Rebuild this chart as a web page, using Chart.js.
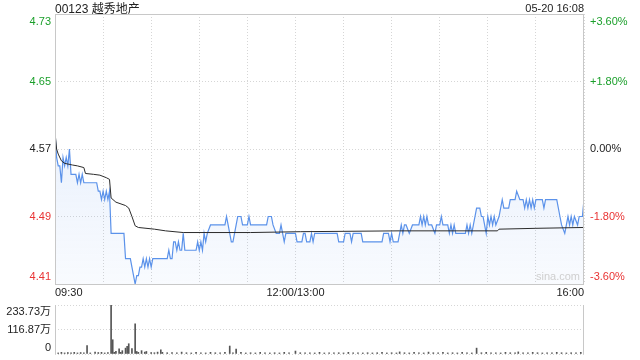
<!DOCTYPE html>
<html lang="zh">
<head>
<meta charset="UTF-8" />
<title>00123 越秀地产</title>
<script src="https://cdn.jsdelivr.net/npm/chart.js@4.4.1/dist/chart.umd.min.js"></script>
<style>
  body { margin: 0; background: #fff; }
  canvas { position: absolute; left: 0; }
  #main { top: 0; }
  #vol { top: 300px; }
</style>
</head>
<body>
<canvas id="main" width="640" height="300"></canvas>
<canvas id="vol" width="640" height="60"></canvas>
<script>
// minutes since 09:30 (lunch break removed, 330 = 16:00)
const prevClose = 4.57;
const priceTicks = [4.41, 4.49, 4.57, 4.65, 4.73];
const pctTicks = ["-3.60%", "-1.80%", "0.00%", "+1.80%", "+3.60%"];
const gridMin = [0, 30, 60, 90, 120, 150, 180, 210, 240, 270, 300, 330];
const timeLabels = ["09:30", "12:00/13:00", "16:00"];
const timeLabelMin = [0, 150, 330];

const priceMin = [0,1,2,3,4,5,6,7,8,9,10,13,14,15,16,17,18,26,27,28,29,30,31,32,33,34,35,43,44,47,48,49,50,51,52,53,54,55,56,57,58,59,60,61,70,71,72,73,74,75,76,77,78,79,80,81,88,89,90,91,92,93,94,95,97,106,107,108,109,110,111,112,113,114,116,117,120,121,122,132,133,135,136,138,140,141,142,143,144,150,151,154,155,156,157,159,160,161,162,176,177,180,181,184,185,186,191,192,204,205,208,209,210,211,214,216,217,218,219,221,223,227,228,229,230,231,232,233,235,237,238,240,241,242,245,246,247,248,249,250,256,257,258,259,260,261,263,265,266,267,269,270,271,272,273,274,275,277,279,280,283,284,287,288,290,292,293,294,295,296,297,298,299,300,304,305,306,313,315,316,318,319,320,321,322,323,324,326,327,329,330];
const priceVal = [4.59,4.56,4.55,4.55,4.53,4.56,4.55,4.56,4.55,4.57,4.54,4.54,4.53,4.54,4.53,4.54,4.53,4.53,4.52,4.52,4.51,4.52,4.51,4.52,4.51,4.52,4.47,4.47,4.44,4.44,4.43,4.42,4.41,4.42,4.42,4.43,4.43,4.44,4.43,4.44,4.43,4.44,4.43,4.44,4.44,4.45,4.44,4.44,4.46,4.46,4.45,4.46,4.45,4.45,4.47,4.45,4.45,4.46,4.45,4.46,4.45,4.47,4.46,4.47,4.48,4.48,4.49,4.48,4.47,4.46,4.46,4.47,4.48,4.49,4.49,4.48,4.48,4.49,4.48,4.48,4.49,4.49,4.48,4.47,4.47,4.48,4.47,4.46,4.47,4.47,4.46,4.46,4.47,4.47,4.46,4.46,4.47,4.46,4.47,4.47,4.46,4.46,4.47,4.47,4.46,4.47,4.47,4.46,4.46,4.47,4.47,4.46,4.47,4.46,4.46,4.48,4.47,4.48,4.48,4.47,4.48,4.48,4.49,4.48,4.49,4.48,4.49,4.48,4.48,4.47,4.48,4.48,4.49,4.48,4.48,4.47,4.48,4.47,4.48,4.47,4.47,4.48,4.47,4.48,4.47,4.48,4.50,4.50,4.49,4.49,4.47,4.49,4.48,4.49,4.48,4.49,4.48,4.49,4.51,4.50,4.50,4.51,4.51,4.52,4.51,4.51,4.50,4.51,4.50,4.51,4.50,4.51,4.50,4.51,4.51,4.50,4.51,4.51,4.49,4.48,4.47,4.48,4.49,4.48,4.49,4.48,4.49,4.48,4.49,4.49,4.51];

const avgMin = [0,1,2,4,6,11,14,18,19,24,28,32,34,35,38,44,46,48,50,52,62,69,80,122,153,215,276,277,300,330];
const avgVal = [4.59,4.57,4.564,4.556,4.553,4.551,4.550,4.548,4.541,4.540,4.539,4.536,4.534,4.512,4.507,4.503,4.500,4.490,4.479,4.477,4.475,4.473,4.471,4.471,4.472,4.473,4.473,4.475,4.476,4.477];

// volume in 万股
const volTicks = [0, 116.87, 233.73];
const volTickLabels = ["0", "116.87万", "233.73万"];
const volMin = [0,2,4,6,8,10,12,14,16,18,20,22,25,27,29,31,33,35,36,37,38,40,41,42,44,45,46,48,50,51,52,54,56,57,60,62,64,66,67,70,73,76,79,82,85,88,91,94,97,100,103,106,109,111,113,116,119,122,125,128,131,134,137,140,143,146,150,153,156,159,162,165,168,171,174,177,180,183,186,189,192,195,198,201,204,207,210,213,215,218,221,224,227,230,233,236,239,242,245,248,251,254,257,260,263,266,269,272,275,278,281,284,287,289,292,295,298,301,304,307,310,313,316,319,322,325,328,330];
const volVal = [7,5,8,5,7,5,8,5,7,5,40,5,9,7,8,5,7,233.73,68,8,13,25,8,16,28,36,49,26,144,12,8,16,9,12,7,6,9,20,8,6,7,5,9,6,5,8,6,5,8,6,5,8,38,6,24,8,5,6,5,8,6,5,6,5,8,5,14,6,5,6,5,8,5,6,5,6,5,8,5,6,5,6,5,6,8,5,6,5,10,6,5,8,6,5,9,6,5,8,5,6,5,8,6,5,28,6,8,5,6,5,8,6,5,10,6,5,8,6,5,6,5,8,6,5,6,5,8,90];

const FONT = 'Arial, "Liberation Sans", "Noto Sans CJK SC", sans-serif';
const GREEN = "#1a9f2a";
const RED = "#e93434";
const DARK = "#222";
const GRID = "#d6d6d6";

function colorFor(v) {
  if (Math.abs(v - prevClose) < 1e-6) return DARK;
  return v > prevClose ? GREEN : RED;
}

const mainText = {
  id: "mainText",
  afterDraw(chart) {
    const ctx = chart.ctx;
    const a = chart.chartArea;
    const y = chart.scales.y, x = chart.scales.x;
    ctx.save();
    // frame
    ctx.strokeStyle = "#c8c8c8";
    ctx.lineWidth = 1;
    ctx.strokeRect(a.left + 0.5, a.top + 0.5, a.right - a.left - 1, a.bottom - a.top);
    ctx.font = "11px " + FONT;
    ctx.textBaseline = "middle";
    priceTicks.forEach((v, i) => {
      let py = y.getPixelForValue(v);
      if (i === priceTicks.length - 1) py += 8;
      if (i === 0) py -= 7;
      ctx.fillStyle = colorFor(v);
      ctx.textAlign = "right";
      ctx.fillText(v.toFixed(2), a.left - 4, py);
      ctx.textAlign = "left";
      ctx.fillText(pctTicks[i], a.right + 6, py);
    });
    ctx.fillStyle = DARK;
    timeLabels.forEach((t, i) => {
      const px = x.getPixelForValue(timeLabelMin[i]);
      ctx.textAlign = i === 0 ? "left" : (i === timeLabels.length - 1 ? "right" : "center");
      ctx.fillText(t, px, a.bottom + 9);
    });
    ctx.font = "12px " + FONT;
    ctx.textAlign = "left";
    ctx.fillText("00123 越秀地产", a.left, 10);
    ctx.font = "11px " + FONT;
    ctx.textAlign = "right";
    ctx.fillText("05-20 16:08", a.right, 9);
    ctx.fillStyle = "#cfcfcf";
    ctx.fillText("sina.com", a.right - 4, a.bottom - 7);
    ctx.restore();
  }
};

const dotted = { display: false, dash: [1, 2] };

new Chart(document.getElementById("main"), {
  type: "line",
  data: {
    datasets: [
      {
        label: "均价",
        data: avgMin.map((m, i) => ({ x: m, y: avgVal[i] })),
        borderColor: "#2b2b2b",
        borderWidth: 1,
        pointRadius: 0,
        fill: false
      },
      {
        label: "价格",
        data: priceMin.map((m, i) => ({ x: m, y: priceVal[i] })),
        borderColor: "#5b92ea",
        borderWidth: 1.2,
        pointRadius: 0,
        fill: "start",
        backgroundColor: (c) => {
          const area = c.chart.chartArea;
          if (!area) return "rgba(91,146,234,0.08)";
          const g = c.chart.ctx.createLinearGradient(0, area.top, 0, area.bottom);
          g.addColorStop(0, "rgba(91,146,234,0.20)");
          g.addColorStop(1, "rgba(91,146,234,0.04)");
          return g;
        }
      }
    ]
  },
  options: {
    responsive: false,
    animation: false,
    layout: { padding: { top: 14, bottom: 0, left: 0, right: 0 } },
    plugins: { legend: { display: false }, tooltip: { enabled: false } },
    scales: {
      x: {
        type: "linear", min: 0, max: 330,
        afterBuildTicks: (s) => { s.ticks = gridMin.map((v) => ({ value: v })); },
        afterFit: (s) => { s.height = 16; },
        ticks: { display: false },
        grid: { color: GRID, drawTicks: false },
        border: dotted
      },
      y: {
        min: 4.41, max: 4.73,
        afterBuildTicks: (s) => { s.ticks = priceTicks.map((v) => ({ value: v })); },
        afterFit: (s) => { s.width = 55; },
        ticks: { display: false },
        grid: { color: GRID, drawTicks: false },
        border: dotted
      },
      y2: {
        position: "right", min: 4.41, max: 4.73,
        afterFit: (s) => { s.width = 56; },
        ticks: { display: false },
        grid: { display: false },
        border: { display: false }
      }
    }
  },
  plugins: [mainText]
});

const volText = {
  id: "volText",
  afterDraw(chart) {
    const ctx = chart.ctx;
    const a = chart.chartArea;
    const y = chart.scales.y;
    ctx.save();
    ctx.strokeStyle = "#c8c8c8";
    ctx.lineWidth = 1;
    ctx.beginPath();
    ctx.moveTo(a.left + 0.5, a.top);
    ctx.lineTo(a.left + 0.5, a.bottom);
    ctx.moveTo(a.right - 0.5, a.top);
    ctx.lineTo(a.right - 0.5, a.bottom);
    ctx.stroke();
    ctx.font = "11px " + FONT;
    ctx.textBaseline = "middle";
    ctx.textAlign = "right";
    ctx.fillStyle = DARK;
    volTicks.forEach((v, i) => {
      let py = y.getPixelForValue(v);
      if (i === volTicks.length - 1) py += 7;
      if (i === 0) py -= 6;
      ctx.fillText(volTickLabels[i], a.left - 4, py);
    });
    ctx.restore();
  }
};

new Chart(document.getElementById("vol"), {
  type: "bar",
  data: {
    datasets: [{
      label: "成交量",
      data: volMin.map((m, i) => ({ x: m, y: volVal[i] })),
      backgroundColor: "#555",
      barThickness: 1
    }]
  },
  options: {
    responsive: false,
    animation: false,
    layout: { padding: { top: 5, bottom: 0, left: 0, right: 0 } },
    plugins: { legend: { display: false }, tooltip: { enabled: false } },
    scales: {
      x: {
        type: "linear", min: 0, max: 330, offset: false,
        afterFit: (s) => { s.height = 6; },
        ticks: { display: false },
        grid: { display: false },
        border: { display: false }
      },
      y: {
        min: 0, max: 233.73,
        afterBuildTicks: (s) => { s.ticks = volTicks.map((v) => ({ value: v })); },
        afterFit: (s) => { s.width = 55; },
        ticks: { display: false },
        grid: { color: GRID, drawTicks: false },
        border: dotted
      },
      y2: {
        position: "right", min: 0, max: 233.73,
        afterFit: (s) => { s.width = 56; },
        ticks: { display: false },
        grid: { display: false },
        border: { display: false }
      }
    }
  },
  plugins: [volText]
});
</script>
</body>
</html>
